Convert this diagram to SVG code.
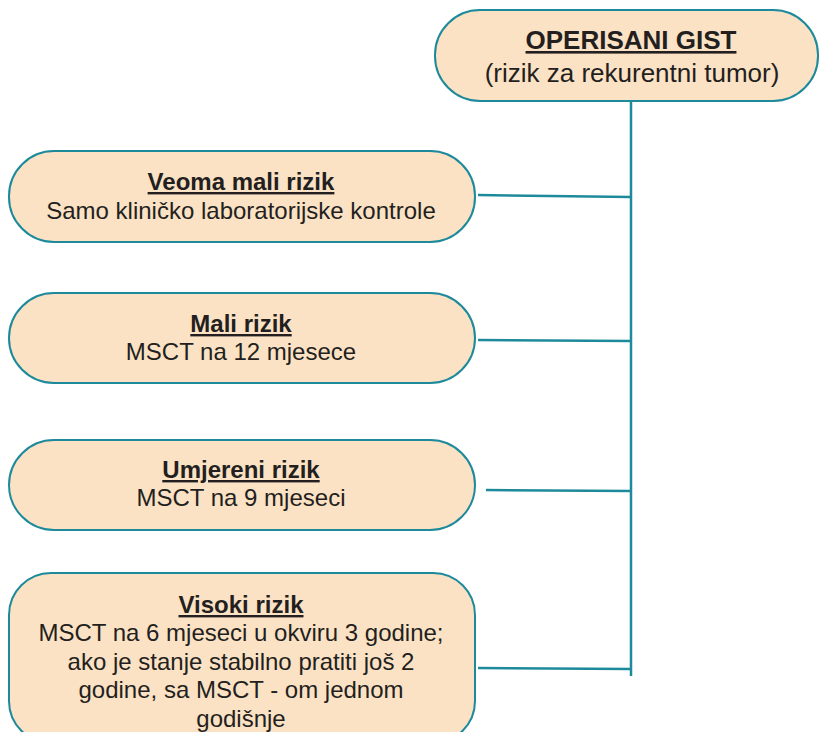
<svg xmlns="http://www.w3.org/2000/svg" width="819" height="732" viewBox="0 0 819 732">
<style>
.box{fill:#fce2c4;stroke:#1d8a9c;stroke-width:2}
.conn{stroke:#1d8a9c;stroke-width:2.5;fill:none}
text{font-family:"Liberation Sans",Arial,sans-serif;fill:#231f20;text-anchor:middle}
.t{font-weight:bold;text-decoration:underline;font-size:24px}
.b{font-size:24px}
.h{font-weight:bold;text-decoration:underline;font-size:26px}
.h2{font-size:26px}
</style>
<rect width="819" height="732" fill="#fff"/>
<g id="connectors">
<line class="conn" x1="631" y1="101" x2="631" y2="676"/>
<line class="conn" x1="478" y1="195" x2="631" y2="197"/>
<line class="conn" x1="478" y1="340" x2="631" y2="341"/>
<line class="conn" x1="486" y1="490" x2="631" y2="491"/>
<line class="conn" x1="478" y1="668" x2="631" y2="669"/>
</g>
<g id="root">
<rect class="box" x="435" y="10" width="383" height="91" rx="45"/>
<text class="h" x="631" y="49">OPERISANI GIST</text>
<text class="h2" x="632" y="82">(rizik za rekurentni tumor)</text>
</g>
<g id="n1">
<rect class="box" x="9" y="151" width="466" height="91" rx="45"/>
<text class="t" x="241" y="190">Veoma mali rizik</text>
<text class="b" x="241" y="219">Samo kliničko laboratorijske kontrole</text>
</g>
<g id="n2">
<rect class="box" x="9" y="293" width="466" height="90" rx="45"/>
<text class="t" x="241" y="332">Mali rizik</text>
<text class="b" x="241" y="360">MSCT na 12 mjesece</text>
</g>
<g id="n3">
<rect class="box" x="9" y="440" width="466" height="90" rx="45"/>
<text class="t" x="241" y="478">Umjereni rizik</text>
<text class="b" x="241" y="506">MSCT na 9 mjeseci</text>
</g>
<g id="n4">
<rect class="box" x="9" y="573" width="466" height="170" rx="42"/>
<text class="t" x="241" y="613">Visoki rizik</text>
<text class="b" x="241" y="641">MSCT na 6 mjeseci u okviru 3 godine;</text>
<text class="b" x="241" y="670">ako je stanje stabilno pratiti još 2</text>
<text class="b" x="241" y="698">godine, sa MSCT - om jednom</text>
<text class="b" x="241" y="727">godišnje</text>
</g>
</svg>
